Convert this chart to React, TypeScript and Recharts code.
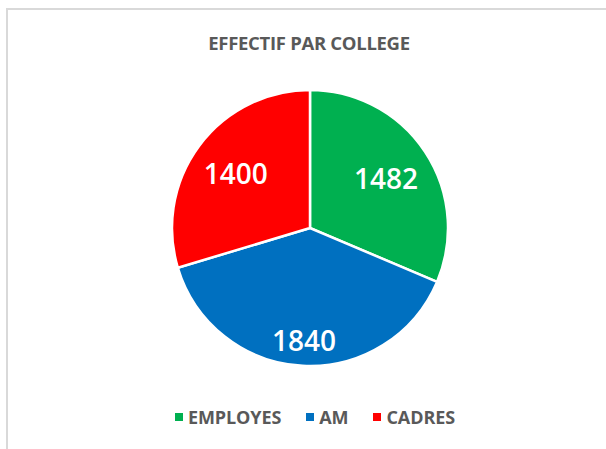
import React from 'react';
import { PieChart, Pie, Cell } from 'recharts';

const categories = ['EMPLOYES', 'AM', 'CADRES'];
const effectifs = [1482, 1840, 1400];
const colors = ['#00b050', '#0070c0', '#ff0000'];

// label distance from the centre, as a share of the radius
const labelRadius = [0.66, 0.81, 0.67];

const data = categories.map((name, i) => ({ name, value: effectifs[i] }));

const RADIAN = Math.PI / 180;

const renderLabel = (props: any) => {
  const { cx, cy, midAngle, outerRadius, index, value } = props;
  const r = outerRadius * labelRadius[index];
  const x = cx + r * Math.cos(-midAngle * RADIAN);
  const y = cy + r * Math.sin(-midAngle * RADIAN);
  return (
    <text
      x={x}
      y={y}
      fill="#ffffff"
      textAnchor="middle"
      dominantBaseline="central"
      fontSize={28}
      fontWeight={600}
      fontFamily="'Open Sans', sans-serif"
    >
      {value}
    </text>
  );
};

export default function App() {
  const font = "'Open Sans', sans-serif";
  return (
    <div style={{ position: 'absolute', left: 0, top: 0, width: 606, height: 449, background: '#fff', overflow: 'hidden' }}>
      <div
        style={{
          position: 'absolute',
          left: 6,
          top: 8,
          width: 620,
          height: 460,
          borderTop: '2px solid #d9d9d9',
          borderLeft: '2px solid #d9d9d9',
        }}
      />
      <div
        style={{
          position: 'absolute',
          left: 0,
          width: 618,
          top: 30,
          textAlign: 'center',
          fontFamily: font,
          fontWeight: 700,
          fontSize: 18.5,
          lineHeight: '26px',
          color: '#595959',
          letterSpacing: -0.3,
        }}
      >
        EFFECTIF PAR COLLEGE
      </div>
      <div style={{ position: 'absolute', left: 0, top: 0 }}>
        <PieChart width={620} height={456} margin={{ top: 0, right: 0, bottom: 0, left: 0 }}>
          <Pie
            data={data}
            dataKey="value"
            nameKey="name"
            cx={310}
            cy={228}
            outerRadius={138}
            startAngle={90}
            endAngle={-270}
            stroke="#ffffff"
            strokeWidth={2.5}
            label={renderLabel}
            labelLine={false}
            isAnimationActive={false}
          >
            {data.map((d, i) => (
              <Cell key={d.name} fill={colors[i]} />
            ))}
          </Pie>
        </PieChart>
      </div>
      <div
        style={{
          position: 'absolute',
          top: 404,
          left: 0,
          width: 606,
          height: 26,
          display: 'flex',
          justifyContent: 'center',
          paddingLeft: 24,
          boxSizing: 'border-box',
          fontFamily: font,
          fontWeight: 700,
          fontSize: 18,
          lineHeight: '26px',
          color: '#595959',
          letterSpacing: -0.1,
        }}
      >
        {categories.map((c, i) => (
          <div key={c} style={{ display: 'flex', alignItems: 'center', marginRight: i < categories.length - 1 ? 25 : 0 }}>
            <span style={{ width: 8, height: 8, background: colors[i], display: 'inline-block', marginRight: 5 }} />
            <span>{c}</span>
          </div>
        ))}
      </div>
    </div>
  );
}
